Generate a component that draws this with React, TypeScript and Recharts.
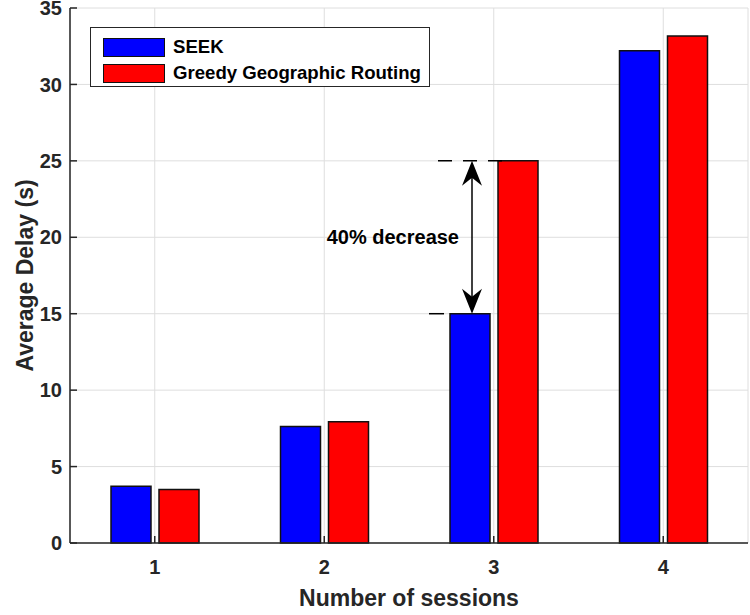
import { BarChart, Bar, XAxis, YAxis, CartesianGrid, Legend, LabelList, Label } from "recharts";

const sessions = ["1", "2", "3", "4"];
const seekDelay = [3.72, 7.62, 15.0, 32.2];
const greedyDelay = [3.5, 7.93, 25.0, 33.17];
const yTicks = [0, 5, 10, 15, 20, 25, 30, 35];
const seriesNames = ["SEEK", "Greedy Geographic Routing"];
// the annotated session (index into the arrays above)
const annotated = 2;

const data = sessions.map((s, i) => ({
  session: s,
  seek: seekDelay[i],
  greedy: greedyDelay[i],
}));

const FONT = "'Liberation Sans', Arial, Helvetica, sans-serif";
const AXIS = "#262626";
const tickStyle = { fill: AXIS, fontSize: 20, fontWeight: "bold", fontFamily: FONT };

function LegendBox({ payload }: any) {
  const items = [...(payload || [])].sort(
    (a: any, b: any) => seriesNames.indexOf(a.value) - seriesNames.indexOf(b.value)
  );
  return (
    <div
      style={{
        width: 338,
        height: 52,
        border: `1px solid ${AXIS}`,
        background: "#fff",
        boxSizing: "content-box",
        paddingTop: 6,
        fontFamily: FONT,
        fontWeight: "bold",
        fontSize: 18.6,
        color: "#000",
      }}
    >
      {items.map((p: any) => (
        <div key={p.value} style={{ display: "flex", alignItems: "center", height: 26 }}>
          <div
            style={{
              width: 60,
              height: 17,
              marginLeft: 12,
              marginRight: 8,
              background: p.color,
              border: "1.5px solid #111",
            }}
          />
          <span>{p.value}</span>
        </div>
      ))}
    </div>
  );
}

function Annotation(props: any) {
  const { x, y, width, height, index, value } = props;
  if (index !== annotated && !(index === undefined && value === seekDelay[annotated])) return null;
  const bottom = y + height;
  const yTop = bottom - (greedyDelay[annotated] * height) / seekDelay[annotated];
  const cx = x + width / 2 + 2;
  const head = (tipY: number, dir: number) =>
    `M${cx},${tipY} L${cx - 10},${tipY + dir * 25} L${cx},${tipY + dir * 17} L${cx + 10},${tipY + dir * 25} Z`;
  return (
    <g>
      <line x1={x - 12} y1={yTop} x2={x + width + 12} y2={yTop} stroke="#000" strokeWidth={1.5} strokeDasharray="14 11" />
      <line x1={x - 21} y1={y} x2={x - 6} y2={y} stroke="#000" strokeWidth={1.5} />
      <line x1={cx} y1={yTop + 10} x2={cx} y2={y - 10} stroke="#000" strokeWidth={1.5} />
      <path d={head(yTop, 1)} fill="#000" />
      <path d={head(y, -1)} fill="#000" />
      <text
        x={cx - 13}
        y={(yTop + y) / 2 + 7}
        textAnchor="end"
        fontFamily={FONT}
        fontWeight="bold"
        fontSize={20}
        fill="#000"
      >
        40% decrease
      </text>
    </g>
  );
}

export default function App() {
  return (
    <div style={{ position: "relative", width: 750, height: 615, background: "#fff" }}>
      <style>{`body{margin:0;background:#fff}`}</style>
      <BarChart
        width={750}
        height={615}
        data={data}
        margin={{ top: 8, right: 2, bottom: 0, left: 0 }}
        barSize={40}
        barGap={8}
      >
        <CartesianGrid xAxisId="bottom" yAxisId="left" stroke="#dedede" strokeWidth={1} />
        <XAxis
          xAxisId="bottom"
          dataKey="session"
          height={72}
          interval={0}
          axisLine={{ stroke: AXIS, strokeWidth: 1.5 }}
          tickLine={{ stroke: AXIS, strokeWidth: 1.5 }}
          tickSize={-7}
          tickMargin={24}
          tick={tickStyle}
        >
          <Label
            value="Number of sessions"
            position="insideBottom"
            offset={9}
            style={{ fill: AXIS, fontSize: 23, fontWeight: "bold", fontFamily: FONT }}
          />
        </XAxis>
        <XAxis
          xAxisId="top"
          orientation="top"
          dataKey="session"
          height={0}
          interval={0}
          axisLine={{ stroke: AXIS, strokeWidth: 1.5 }}
          tickLine={{ stroke: AXIS, strokeWidth: 1.5 }}
          tickSize={-7}
          tick={false}
        />
        <YAxis
          yAxisId="left"
          width={70}
          domain={[0, 35]}
          ticks={yTicks}
          interval={0}
          axisLine={{ stroke: AXIS, strokeWidth: 1.5 }}
          tickLine={{ stroke: AXIS, strokeWidth: 1.5 }}
          tickSize={-7}
          tickMargin={15}
          tick={tickStyle}
        >
          <Label
            content={({ viewBox }: any) => {
              const cy = viewBox.y + viewBox.height / 2;
              return (
                <text
                  x={33}
                  y={cy}
                  transform={`rotate(-90, 33, ${cy})`}
                  textAnchor="middle"
                  fill={AXIS}
                  fontSize={23}
                  fontWeight="bold"
                  fontFamily={FONT}
                >
                  Average Delay (s)
                </text>
              );
            }}
          />
        </YAxis>
        <YAxis
          yAxisId="right"
          orientation="right"
          width={0}
          domain={[0, 35]}
          ticks={yTicks}
          interval={0}
          axisLine={{ stroke: AXIS, strokeWidth: 1.5 }}
          tickLine={{ stroke: AXIS, strokeWidth: 1.5 }}
          tickSize={-7}
          tick={false}
        />
        <Legend
          layout="vertical"
          align="center"
          verticalAlign="middle"
          wrapperStyle={{ left: 90, top: 27, width: "auto", height: "auto" }}
          content={<LegendBox />}
        />
        <Bar
          xAxisId="bottom"
          yAxisId="left"
          dataKey="seek"
          name={seriesNames[0]}
          fill="#0000ff"
          stroke="#111"
          strokeWidth={1.5}
          isAnimationActive={false}
        >
          <LabelList dataKey="seek" content={<Annotation />} />
        </Bar>
        <Bar
          xAxisId="bottom"
          yAxisId="left"
          dataKey="greedy"
          name={seriesNames[1]}
          fill="#ff0000"
          stroke="#111"
          strokeWidth={1.5}
          isAnimationActive={false}
        />
      </BarChart>
    </div>
  );
}
